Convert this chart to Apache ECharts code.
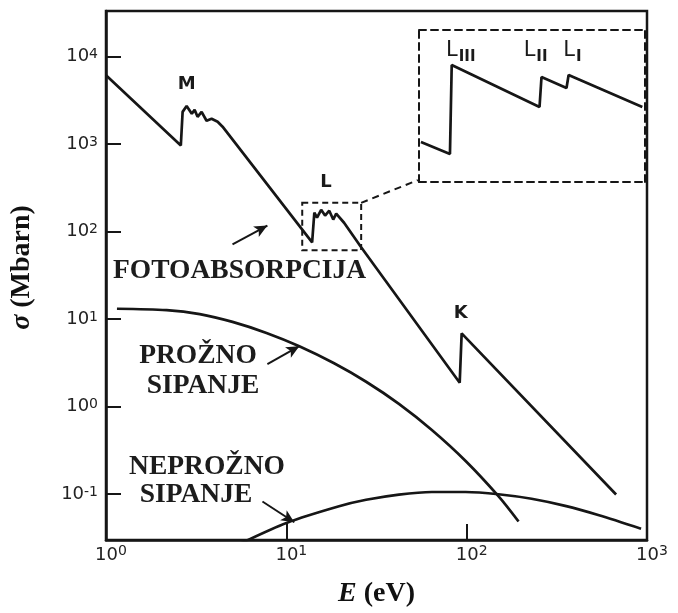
<!DOCTYPE html>
<html><head><meta charset="utf-8">
<script src="https://cdn.jsdelivr.net/npm/echarts@6/dist/echarts.min.js"></script>
<style>html,body{margin:0;padding:0;background:#fff}#c{width:678px;height:613px}</style>
</head><body><div id="c"></div>
<script>
// ---- data (E in eV, sigma in Mbarn) ----
const photoE = [1, 2.60, 2.66, 2.80, 2.99, 3.10, 3.22, 3.39, 3.61, 3.85, 4.16, 4.43, 13.9, 14.3, 14.8, 15.6, 16.4, 17.3, 18.2, 18.9, 20.9, 26.0, 91.5, 93.8, 674];
const photoS = [6100, 962, 2330, 2723, 2213, 2455, 2046, 2330, 1844, 1943, 1795, 1578, 75.1, 164, 144, 177, 152, 173, 137, 160, 126, 66, 1.87, 6.86, 0.0987];
const elasticE = [1.15, 2.17, 3.31, 5.03, 7.76, 11.8, 18.4, 27.7, 42.1, 64.1, 98.7, 150, 194];
const elasticS = [13.1, 12.64, 11.39, 9.27, 6.93, 4.88, 3.12, 1.92, 1.073, 0.540, 0.239, 0.0947, 0.0486];
const inelE = [5.5, 10.1, 19.6, 27.7, 42.1, 64.1, 98.7, 150, 229, 352, 536, 927];
const inelS = [0.0269, 0.0471, 0.0726, 0.0860, 0.0987, 0.1056, 0.1056, 0.0995, 0.0883, 0.0732, 0.0576, 0.0402];
// L-edge detail (inset)
const insetE = [12.33, 13.58, 13.66, 18.30, 18.42, 20.02, 20.16, 25.77];
const insetS = [84.8, 76.8, 159.5, 113.0, 144.6, 132.1, 147.0, 113.0];
const zoomE = [12.25, 26.0];
const zoomS = [61.0, 212.7];
const connectorEnd = [53.6, 387];
const edgeLabels = [{t: 'M', E: 2.80, S: 4830}, {t: 'L', E: 16.6, S: 367}, {t: 'K', E: 92.7, S: 11.5}];
const insetLabels = [{t: 'L', s: 'III', E: 14.08, S: 174.6}, {t: 'L', s: 'II', E: 18.06, S: 174.6}, {t: 'L', s: 'I', E: 20.42, S: 174.6}];
const arrows = [
  [[5.03, 71.3], [7.85, 117]],
  [[7.85, 3.06], [11.8, 4.89]],
  [[7.37, 0.0822], [11.07, 0.0476]]
];
const curveLabels = [
  {text: 'FOTOABSORPCIJA', x: 113, y: 271, align: 'left'},
  {text: 'PROŽNO', x: 198, y: 356, align: 'center'},
  {text: 'SIPANJE', x: 203, y: 386, align: 'center'},
  {text: 'NEPROŽNO', x: 207, y: 467, align: 'center'},
  {text: 'SIPANJE', x: 196, y: 495, align: 'center'}
];
const yMin = Math.pow(10, -1.525), yMax = Math.pow(10, 4.52);

const zip = (a, b) => a.map((v, i) => [v, b[i]]);
const ink = '#161616';
const serif = 'Liberation Serif';
const sans = 'DejaVu Sans';

function exponentOf(v) {
  const l = Math.log10(v);
  const e = Math.round(l);
  return Math.abs(l - e) > 1e-6 ? null : e;
}
const xLabel = v => { const e = exponentOf(v); return e === null ? '' : '{p|}{b|10}{s|' + e + '}'; };
const yLabel = v => { const e = exponentOf(v); return e === null ? '' : '{b|10}{s|' + e + '}'; };
const xRich = {
  p: {width: 10, lineHeight: 10},
  b: {fontSize: 18, fontFamily: sans, color: '#222', lineHeight: 18, padding: [5, 0, 0, 0]},
  s: {fontSize: 14, fontFamily: sans, color: '#222', lineHeight: 11, verticalAlign: 'top'}
};
const yRich = {
  b: {fontSize: 18, fontFamily: sans, color: '#222', lineHeight: 18, padding: [5, 0, 5, 0]},
  s: {fontSize: 14, fontFamily: sans, color: '#222', lineHeight: 11, verticalAlign: 'top'}
};
const dashed = {color: ink, width: 2, type: [7, 5]};
const nameStyle = {fontFamily: serif, fontWeight: 'bold', fontSize: 28, color: '#111'};
const hiddenMark = {symbol: 'circle', symbolSize: 1, itemStyle: {color: 'rgba(0,0,0,0)'}};

const chart = echarts.init(document.getElementById('c'), null, {renderer: 'canvas'});
chart.setOption({
  animation: false,
  backgroundColor: '#fff',
  grid: [
    {left: 106, right: 31, top: 11, bottom: 67, show: true, borderColor: ink, borderWidth: 2.5},
    {left: 419, top: 30, width: 226, height: 152}
  ],
  xAxis: [
    {type: 'log', gridIndex: 0, min: 1, max: 1000, logBase: 10,
     axisLine: {show: true, lineStyle: {color: ink, width: 2.5}},
     axisTick: {show: true, inside: true, length: 16, lineStyle: {color: ink, width: 2}},
     axisLabel: {formatter: xLabel, rich: xRich, margin: 4},
     splitLine: {show: false}, minorTick: {show: false},
     name: '{i|E} (eV)', nameLocation: 'middle', nameGap: 40,
     nameTextStyle: Object.assign({}, nameStyle, {rich: {i: Object.assign({}, nameStyle, {fontStyle: 'italic'})}})},
    {type: 'log', gridIndex: 1, min: zoomE[0], max: zoomE[1], position: 'bottom',
     axisLine: {show: true, lineStyle: dashed}, axisTick: {show: false}, axisLabel: {show: false}, splitLine: {show: false}},
    {type: 'log', gridIndex: 1, min: zoomE[0], max: zoomE[1], position: 'top',
     axisLine: {show: true, lineStyle: dashed}, axisTick: {show: false}, axisLabel: {show: false}, splitLine: {show: false}}
  ],
  yAxis: [
    {type: 'log', gridIndex: 0, min: yMin, max: yMax, logBase: 10,
     axisLine: {show: true, lineStyle: {color: ink, width: 2.5}},
     axisTick: {show: true, inside: true, length: 15, lineStyle: {color: ink, width: 2}},
     axisLabel: {formatter: yLabel, rich: yRich, margin: 8, showMinLabel: false, showMaxLabel: false},
     splitLine: {show: false}, minorTick: {show: false},
     name: '{i|σ} (Mbarn)', nameLocation: 'middle', nameGap: 70, nameRotate: 90,
     nameTextStyle: Object.assign({}, nameStyle, {padding: [0, 0, 0, 16], rich: {i: Object.assign({}, nameStyle, {fontStyle: 'italic'})}})},
    {type: 'log', gridIndex: 1, min: zoomS[0], max: zoomS[1], position: 'left',
     axisLine: {show: true, lineStyle: dashed}, axisTick: {show: false}, axisLabel: {show: false}, splitLine: {show: false}},
    {type: 'log', gridIndex: 1, min: zoomS[0], max: zoomS[1], position: 'right',
     axisLine: {show: true, lineStyle: dashed}, axisTick: {show: false}, axisLabel: {show: false}, splitLine: {show: false}}
  ],
  series: [
    {name: 'Fotoabsorpcija', type: 'line', xAxisIndex: 0, yAxisIndex: 0, data: zip(photoE, photoS),
     symbol: 'none', lineStyle: {color: ink, width: 2.7}, z: 5,
     markArea: {silent: true, itemStyle: {color: 'rgba(0,0,0,0)', borderColor: ink, borderWidth: 2, borderType: [6, 4]},
       data: [[{coord: [zoomE[0], zoomS[1]]}, {coord: [zoomE[1], zoomS[0]]}]]},
     markLine: {silent: true, symbol: ['none', 'none'], lineStyle: {color: ink, width: 2, type: [7, 5]}, label: {show: false},
       data: [[{coord: [zoomE[1], zoomS[1]]}, {coord: connectorEnd}]]},
     markPoint: Object.assign({silent: true,
       label: {show: true, position: 'inside', fontFamily: sans, fontSize: 18, fontWeight: 'bold', color: '#1a1a1a', formatter: p => p.name},
       data: edgeLabels.map(d => ({name: d.t, coord: [d.E, d.S]}))}, hiddenMark)},
    {name: 'Prožno sipanje', type: 'line', xAxisIndex: 0, yAxisIndex: 0, data: zip(elasticE, elasticS),
     symbol: 'none', smooth: 0.3, lineStyle: {color: ink, width: 2.7},
     markLine: {silent: true, symbol: ['none', 'arrow'], symbolSize: [9, 13], lineStyle: {color: ink, width: 2, type: 'solid'}, label: {show: false},
       data: arrows.map(a => [{coord: a[0]}, {coord: a[1]}])}},
    {name: 'Neprožno sipanje', type: 'line', xAxisIndex: 0, yAxisIndex: 0, data: zip(inelE, inelS),
     symbol: 'none', smooth: 0.3, lineStyle: {color: ink, width: 2.7}},
    {name: 'L detalj', type: 'line', xAxisIndex: 1, yAxisIndex: 1, data: zip(insetE, insetS),
     symbol: 'none', lineStyle: {color: ink, width: 2.7},
     markPoint: Object.assign({silent: true,
       label: {show: true, position: 'inside', color: '#1a1a1a', formatter: p => '{l|L}{s|' + p.data.sub + '}',
         rich: {l: {fontFamily: sans, fontSize: 21, color: '#1a1a1a', lineHeight: 21, padding: [0, 1, 6, 0]},
                s: {fontFamily: sans, fontSize: 15, fontWeight: 'bold', color: '#1a1a1a', lineHeight: 15, verticalAlign: 'bottom'}}},
       data: insetLabels.map(d => ({name: d.t, sub: d.s, coord: [d.E, d.S]}))}, hiddenMark)}
  ],
  graphic: curveLabels.map(c => ({type: 'text', x: c.x, y: c.y, z: 10,
    style: {text: c.text, font: 'bold 27.5px "Liberation Serif"', fill: '#1c1c1c', align: c.align, verticalAlign: 'middle'}}))
});
</script></body></html>
